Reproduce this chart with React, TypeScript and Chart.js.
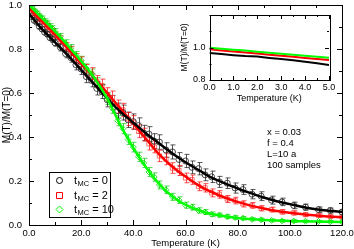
import React, { useEffect, useRef } from "react";
import { Chart, registerables } from "chart.js";
Chart.register(...registerables);

const FONT = "'Liberation Sans', Arial, Helvetica, sans-serif";

// ---------- main plot data ----------
const temps = [1, 2, 3, 4, 5, 6, 7, 8, 9, 10, 12, 14, 16, 18, 20, 22, 24, 26, 28, 30, 32, 34, 36, 38, 40, 42, 44, 46, 48, 50, 52.5, 55, 57.5, 60, 62.5, 65, 67.5, 70, 73, 76, 79, 82, 85.5, 89, 93, 97, 101.5, 106, 111, 115.5, 120];

const black0 = [0.948, 0.930, 0.921, 0.902, 0.891, 0.876, 0.868, 0.852, 0.845, 0.828, 0.808, 0.779, 0.761, 0.728, 0.709, 0.674, 0.657, 0.621, 0.606, 0.569, 0.556, 0.520, 0.511, 0.478, 0.470, 0.452, 0.418, 0.413, 0.381, 0.377, 0.341, 0.332, 0.298, 0.291, 0.262, 0.256, 0.228, 0.219, 0.196, 0.190, 0.168, 0.161, 0.140, 0.131, 0.113, 0.105, 0.089, 0.081, 0.070, 0.066, 0.059];
const blackErr = [0.006, 0.007, 0.008, 0.009, 0.010, 0.011, 0.012, 0.013, 0.014, 0.015, 0.017, 0.019, 0.021, 0.023, 0.025, 0.027, 0.029, 0.030, 0.031, 0.032, 0.033, 0.034, 0.034, 0.035, 0.035, 0.035, 0.035, 0.034, 0.034, 0.033, 0.033, 0.032, 0.031, 0.030, 0.029, 0.028, 0.027, 0.026, 0.025, 0.024, 0.023, 0.022, 0.021, 0.020, 0.018, 0.017, 0.015, 0.014, 0.012, 0.011, 0.010];

const red2 = [0.975, 0.959, 0.951, 0.935, 0.927, 0.911, 0.903, 0.887, 0.879, 0.862, 0.843, 0.810, 0.791, 0.757, 0.739, 0.704, 0.688, 0.651, 0.634, 0.594, 0.579, 0.538, 0.523, 0.482, 0.467, 0.426, 0.411, 0.369, 0.355, 0.314, 0.299, 0.259, 0.248, 0.214, 0.206, 0.176, 0.169, 0.146, 0.139, 0.118, 0.111, 0.096, 0.089, 0.076, 0.070, 0.060, 0.055, 0.047, 0.043, 0.038, 0.036];
const redErr = [0.006, 0.007, 0.008, 0.009, 0.010, 0.011, 0.012, 0.013, 0.014, 0.015, 0.017, 0.019, 0.021, 0.023, 0.025, 0.026, 0.027, 0.028, 0.029, 0.030, 0.030, 0.030, 0.030, 0.030, 0.030, 0.029, 0.029, 0.028, 0.027, 0.026, 0.025, 0.024, 0.023, 0.022, 0.021, 0.020, 0.019, 0.018, 0.017, 0.016, 0.015, 0.014, 0.013, 0.012, 0.011, 0.010, 0.009, 0.008, 0.008, 0.007, 0.007];

const green10 = [0.989, 0.975, 0.965, 0.951, 0.941, 0.927, 0.917, 0.903, 0.893, 0.879, 0.856, 0.826, 0.803, 0.771, 0.748, 0.712, 0.688, 0.647, 0.617, 0.571, 0.531, 0.474, 0.438, 0.388, 0.354, 0.310, 0.282, 0.241, 0.218, 0.182, 0.160, 0.128, 0.113, 0.090, 0.081, 0.066, 0.059, 0.049, 0.045, 0.038, 0.034, 0.031, 0.026, 0.024, 0.021, 0.019, 0.018, 0.017, 0.016, 0.015, 0.014];
const greenErr = [0.005, 0.006, 0.007, 0.008, 0.009, 0.010, 0.011, 0.012, 0.013, 0.014, 0.015, 0.016, 0.017, 0.018, 0.019, 0.020, 0.021, 0.022, 0.022, 0.023, 0.023, 0.023, 0.023, 0.022, 0.022, 0.021, 0.021, 0.020, 0.019, 0.018, 0.017, 0.016, 0.015, 0.014, 0.013, 0.012, 0.011, 0.010, 0.009, 0.009, 0.008, 0.008, 0.007, 0.007, 0.006, 0.006, 0.006, 0.005, 0.005, 0.005, 0.005];

// smooth fit curves
const fitT = [0, 5, 10, 15, 20, 25, 30, 35, 40, 45, 50, 55, 60, 65, 70, 75, 80, 85, 90, 95, 100, 105, 110, 115, 120];
const fitBlack = [0.960, 0.890, 0.830, 0.770, 0.705, 0.640, 0.575, 0.515, 0.465, 0.415, 0.370, 0.325, 0.285, 0.250, 0.215, 0.190, 0.166, 0.145, 0.125, 0.108, 0.095, 0.082, 0.072, 0.065, 0.060];
const fitRed = [0.985, 0.925, 0.865, 0.800, 0.735, 0.670, 0.600, 0.530, 0.460, 0.390, 0.320, 0.265, 0.220, 0.180, 0.150, 0.125, 0.105, 0.088, 0.075, 0.064, 0.056, 0.049, 0.043, 0.039, 0.035];
const fitGreen = [1.000, 0.940, 0.880, 0.815, 0.745, 0.670, 0.575, 0.455, 0.350, 0.260, 0.185, 0.130, 0.092, 0.067, 0.050, 0.040, 0.032, 0.027, 0.023, 0.020, 0.018, 0.017, 0.016, 0.015, 0.014];

const legendLabels = ["0", "2", "10"];
const annotation = ["x = 0.03", "f = 0.4", "L=10 a", "100 samples"];

// ---------- inset data ----------
const insetT = [0, 0.5, 1, 1.5, 2, 2.5, 3, 3.5, 4, 4.5, 5];
const insetBlack = [0.966, 0.960, 0.953, 0.947, 0.944, 0.936, 0.929, 0.922, 0.913, 0.903, 0.893];
const insetRed = [0.989, 0.982, 0.976, 0.969, 0.963, 0.956, 0.949, 0.943, 0.936, 0.929, 0.923];
const insetGreen = [0.998, 0.992, 0.986, 0.981, 0.974, 0.968, 0.962, 0.955, 0.949, 0.943, 0.937];

const BLACK = "#000000";
const RED = "#ff0000";
const GREEN = "#00ff00";

const pts = (xs: number[], ys: number[]) => xs.map((x, i) => ({ x, y: ys[i] }));

// draws inward ticks and frame
const frameTicks = {
  id: "frameTicks",
  afterDatasetsDraw(chart: any, _a: any, o: any) {
    const { ctx, chartArea: ca, scales } = chart;
    const xs = scales.x, ys = scales.y;
    ctx.save();
    ctx.strokeStyle = "#000";
    ctx.lineWidth = 1;
    ctx.beginPath();
    const tick = (v: number, len: number, isX: boolean) => {
      if (isX) {
        const p = Math.round(xs.getPixelForValue(v)) + 0.5;
        ctx.moveTo(p, ca.bottom); ctx.lineTo(p, ca.bottom - len);
        ctx.moveTo(p, ca.top); ctx.lineTo(p, ca.top + len);
      } else {
        const p = Math.round(ys.getPixelForValue(v)) + 0.5;
        ctx.moveTo(ca.left, p); ctx.lineTo(ca.left + len, p);
        ctx.moveTo(ca.right, p); ctx.lineTo(ca.right - len, p);
      }
    };
    const eps = 1e-9;
    for (let v = xs.min; v <= xs.max + eps; v += o.xMinor) {
      const isMajor = Math.abs(v / o.xMajor - Math.round(v / o.xMajor)) < 1e-6;
      tick(v, isMajor ? o.majorLen : o.minorLen, true);
    }
    for (let v = ys.min; v <= ys.max + eps; v += o.yMinor) {
      const isMajor = Math.abs(v / o.yMajor - Math.round(v / o.yMajor)) < 1e-6;
      tick(v, isMajor ? o.majorLen : o.minorLen, false);
    }
    ctx.stroke();
    ctx.strokeRect(Math.round(ca.left) + 0.5, Math.round(ca.top) + 0.5, Math.round(ca.right - ca.left), Math.round(ca.bottom - ca.top));
    ctx.restore();
  },
};

const errorBars = {
  id: "errorBars",
  beforeDatasetsDraw(chart: any) {
    const { ctx, chartArea: ca } = chart;
    const ys = chart.scales.y;
    ctx.save();
    ctx.beginPath();
    ctx.rect(ca.left, ca.top, ca.right - ca.left, ca.bottom - ca.top);
    ctx.clip();
    chart.data.datasets.forEach((ds: any, i: number) => {
      if (!ds.errors) return;
      const meta = chart.getDatasetMeta(i);
      ctx.strokeStyle = ds.errColor;
      ctx.lineWidth = 1;
      ctx.beginPath();
      meta.data.forEach((el: any, j: number) => {
        const v = ds.data[j].y;
        const e = ds.errors[j];
        const x = Math.round(el.x) + 0.5;
        const y1 = ys.getPixelForValue(v + e);
        const y2 = ys.getPixelForValue(v - e);
        ctx.moveTo(x, y1); ctx.lineTo(x, y2);
        ctx.moveTo(x - 2, y1); ctx.lineTo(x + 3, y1);
        ctx.moveTo(x - 2, y2); ctx.lineTo(x + 3, y2);
      });
      ctx.stroke();
    });
    ctx.restore();
  },
};

const mainText = {
  id: "mainText",
  afterDraw(chart: any) {
    const { ctx, chartArea: ca } = chart;
    ctx.save();
    ctx.fillStyle = "#000";
    // axis titles
    ctx.font = `9.5px ${FONT}`;
    ctx.textAlign = "center";
    ctx.textBaseline = "middle";
    ctx.fillText("Temperature (K)", (ca.left + ca.right) / 2, 243);
    ctx.save();
    ctx.translate(7, (ca.top + ca.bottom) / 2);
    ctx.rotate(-Math.PI / 2);
    ctx.font = `10px ${FONT}`;
    ctx.fillText("M(T)/M(T=0)", 0, 0);
    ctx.restore();
    // annotation
    ctx.textAlign = "left";
    ctx.font = `9.5px ${FONT}`;
    annotation.forEach((s, i) => ctx.fillText(s, 267, 132.5 + i * 10.8));
    // legend box
    ctx.fillStyle = "#fff";
    ctx.fillRect(49.5, 172.5, 61, 45);
    ctx.strokeStyle = "#000";
    ctx.lineWidth = 1;
    ctx.strokeRect(49.5, 172.5, 61, 45);
    const rows = [180.5, 195.5, 209.5];
    const cols = [BLACK, RED, GREEN];
    rows.forEach((y, i) => {
      ctx.strokeStyle = cols[i];
      ctx.lineWidth = 1;
      ctx.beginPath();
      if (i === 0) ctx.arc(59.5, y, 3, 0, Math.PI * 2);
      else if (i === 1) ctx.rect(56.5, y - 3, 6, 6);
      else { ctx.moveTo(59.5, y - 3.5); ctx.lineTo(63, y); ctx.lineTo(59.5, y + 3.5); ctx.lineTo(56, y); ctx.closePath(); }
      ctx.stroke();
      ctx.fillStyle = "#000";
      ctx.font = `11px ${FONT}`;
      ctx.textBaseline = "middle";
      ctx.fillText("t", 74, y);
      const tw = ctx.measureText("t").width;
      ctx.font = `7.5px ${FONT}`;
      ctx.fillText("MC", 74 + tw + 0.5, y + 3.5);
      const sw = ctx.measureText("MC").width;
      ctx.font = `11px ${FONT}`;
      ctx.fillText(" = " + legendLabels[i], 74 + tw + 0.5 + sw, y);
    });
    ctx.restore();
  },
};

const insetText = {
  id: "insetText",
  beforeDatasetsDraw(chart: any) {
    const { ctx, chartArea: ca } = chart;
    ctx.save();
    ctx.fillStyle = "#fff";
    ctx.fillRect(ca.left, ca.top, ca.right - ca.left, ca.bottom - ca.top);
    ctx.restore();
  },
  afterDraw(chart: any) {
    const { ctx, chartArea: ca } = chart;
    ctx.save();
    ctx.fillStyle = "#000";
    ctx.textAlign = "center";
    ctx.textBaseline = "middle";
    ctx.font = `9px ${FONT}`;
    ctx.fillText("Temperature (K)", (ca.left + ca.right) / 2, 91);
    ctx.translate(9, (ca.top + ca.bottom) / 2);
    ctx.rotate(-Math.PI / 2);
    ctx.font = `8.5px ${FONT}`;
    ctx.fillText("M(T)/M(T=0)", 0, 0);
    ctx.restore();
  },
};

function MainChart() {
  const ref = useRef<HTMLCanvasElement>(null);
  useEffect(() => {
    const lineDs = (data: number[], color: string) => ({
      type: "scatter" as const,
      data: pts(fitT, data),
      showLine: true,
      borderColor: color,
      borderWidth: 2.5,
      pointRadius: 0,
      cubicInterpolationMode: "monotone" as const,
      fill: false,
    });
    const markDs = (data: number[], err: number[], color: string, errColor: string, style: string) => ({
      type: "scatter" as const,
      data: pts(temps, data),
      errors: err,
      errColor,
      showLine: false,
      pointStyle: style,
      pointRadius: 3,
      borderWidth: 1,
      borderColor: color,
      backgroundColor: "rgba(0,0,0,0)",
    });
    const chart = new Chart(ref.current!, {
      type: "scatter",
      data: {
        datasets: [
          lineDs(fitGreen, GREEN),
          lineDs(fitBlack, BLACK),
          lineDs(fitRed, RED),
          markDs(green10, greenErr, "rgba(0,220,0,0.8)", "rgba(0,200,0,0.7)", "rectRot"),
          markDs(black0, blackErr, "rgba(40,40,40,0.85)", "rgba(30,30,30,0.75)", "circle"),
          markDs(red2, redErr, "rgba(255,60,60,0.75)", "rgba(255,0,0,0.7)", "rect"),
        ] as any,
      },
      options: {
        responsive: false,
        animation: false,
        events: [],
        layout: { padding: { left: 0, right: 12, top: 4, bottom: 0 } },
        plugins: {
          legend: { display: false },
          tooltip: { enabled: false },
          frameTicks: { xMajor: 20, xMinor: 10, yMajor: 0.2, yMinor: 0.1, majorLen: 5, minorLen: 3 },
        } as any,
        scales: {
          x: {
            type: "linear",
            min: 0,
            max: 120,
            grid: { display: false, drawTicks: false },
            border: { display: false },
            ticks: { stepSize: 20, padding: 3, color: "#000", font: { family: FONT, size: 9.5 }, maxRotation: 0, callback: (v: any) => Number(v).toFixed(1) },
            afterFit: (s: any) => { s.height = 24; s.paddingLeft = 0; s.paddingRight = 0; },
          },
          y: {
            type: "linear",
            min: 0,
            max: 1,
            grid: { display: false, drawTicks: false },
            border: { display: false },
            ticks: { stepSize: 0.2, padding: 7, color: "#000", font: { family: FONT, size: 9.5 }, callback: (v: any) => Number(v).toFixed(1) },
            afterFit: (s: any) => { s.width = 29; s.paddingTop = 0; s.paddingBottom = 0; },
          },
        },
      },
      plugins: [errorBars, frameTicks, mainText],
    });
    return () => chart.destroy();
  }, []);
  return <canvas ref={ref} width={354} height={249} style={{ position: "absolute", left: 0, top: 0 }} />;
}

function InsetChart() {
  const ref = useRef<HTMLCanvasElement>(null);
  useEffect(() => {
    const ds = (data: number[], color: string) => ({
      data: pts(insetT, data),
      showLine: true,
      borderColor: color,
      borderWidth: 2,
      pointRadius: 0,
      fill: false,
    });
    const chart = new Chart(ref.current!, {
      type: "scatter",
      data: { datasets: [ds(insetGreen, GREEN), ds(insetRed, RED), ds(insetBlack, BLACK)] as any },
      options: {
        responsive: false,
        animation: false,
        events: [],
        layout: { padding: { left: 0, right: 11, top: 7, bottom: 0 } },
        plugins: {
          legend: { display: false },
          tooltip: { enabled: false },
          frameTicks: { xMajor: 1, xMinor: 0.5, yMajor: 0.2, yMinor: 0.1, majorLen: 4, minorLen: 2 },
        } as any,
        scales: {
          x: {
            type: "linear",
            min: 0,
            max: 5,
            grid: { display: false, drawTicks: false },
            border: { display: false },
            ticks: { stepSize: 1, padding: 2, color: "#000", font: { family: FONT, size: 9 }, maxRotation: 0, callback: (v: any) => Number(v).toFixed(1) },
            afterFit: (s: any) => { s.height = 28; s.paddingLeft = 0; s.paddingRight = 0; },
          },
          y: {
            type: "linear",
            min: 0.8,
            max: 1.2,
            grid: { display: false, drawTicks: false },
            border: { display: false },
            ticks: { stepSize: 0.2, padding: 4, color: "#000", font: { family: FONT, size: 9 }, callback: (v: any) => (Number(v) > 1.1 ? "" : Number(v).toFixed(1)) },
            afterFit: (s: any) => { s.width = 33.5; s.paddingTop = 0; s.paddingBottom = 0; },
          },
        },
      },
      plugins: [insetText, frameTicks],
    });
    return () => chart.destroy();
  }, []);
  return <canvas ref={ref} width={164} height={100} style={{ position: "absolute", left: 176, top: 8 }} />;
}

export default function App() {
  return (
    <div style={{ position: "fixed", left: 0, top: 0, width: 354, height: 249, background: "#fff" }}>
      <MainChart />
      <InsetChart />
    </div>
  );
}
